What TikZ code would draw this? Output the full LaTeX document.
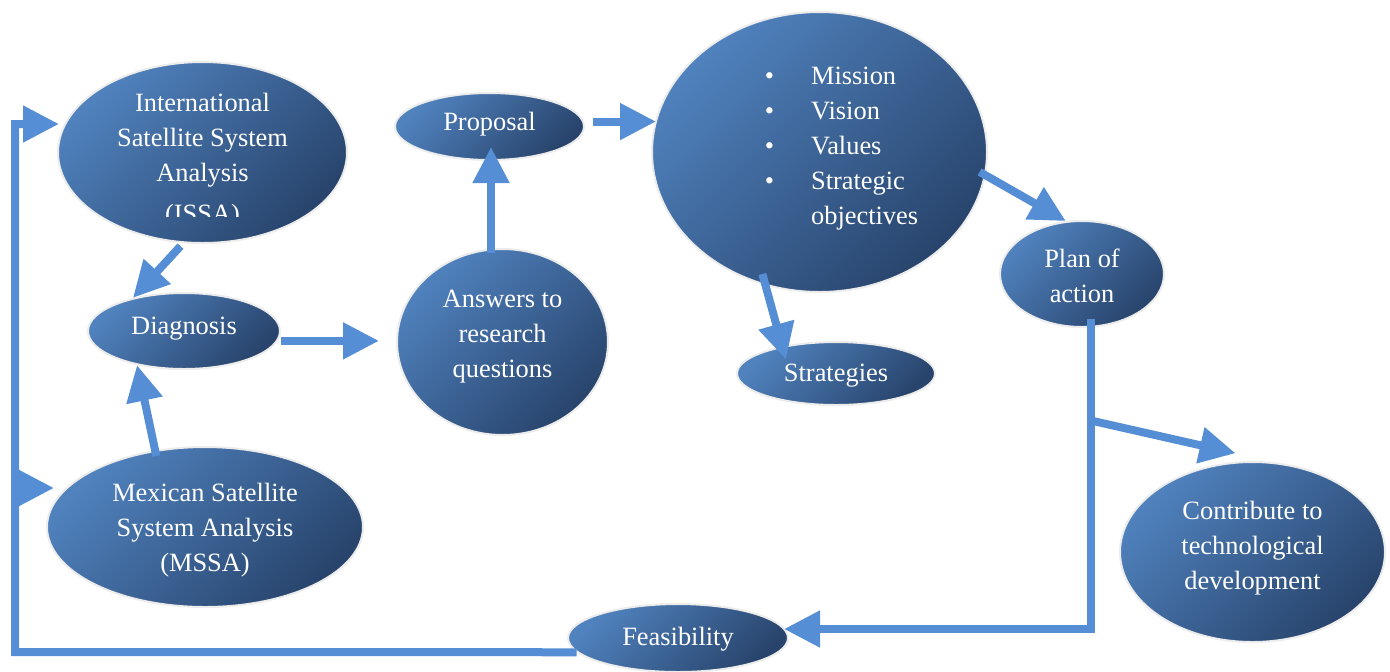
\documentclass[tikz,border=0pt]{standalone}
\usepackage{fontspec}
\setmainfont{Liberation Serif}
\usepackage{trimclip}
\usetikzlibrary{shapes.geometric, arrows.meta}

\definecolor{bubtop}{RGB}{80,130,190}
\definecolor{bubbot}{RGB}{40,68,108}
\definecolor{flowblue}{RGB}{85,142,213}
\definecolor{rimgray}{RGB}{236,236,236}

% text of a bubble, centred, with no height of its own
\newcommand{\bub}[2][0pt]{\smash{\raisebox{\dimexpr #1-3.3pt\relax}{\begin{tabular}{@{}c@{}}#2\end{tabular}}}}

\begin{document}
\begin{tikzpicture}[x=0.5pt, y=-0.5pt,
    bubble/.style={ellipse, inner sep=0pt, draw=rimgray, line width=1pt,
      top color=bubtop, bottom color=bubbot, shading angle=45,
      text=white, font=\fontsize{13.2}{17.5}\selectfont},
    flow/.style={draw=flowblue, line width=4pt, -{Triangle[length=18pt, width=17.5pt]}}]
  \useasboundingbox (0,0) rectangle (1390,671);

  % bubbles
  \node[bubble, minimum width=144.5pt, minimum height=90.5pt] (issa) at (202.5,152.5)
    {\bub[-2pt]{International\\Satellite System\\Analysis\\\clipbox{0pt 5.9pt 0pt 0pt}{(ISSA)}}};
  \node[bubble, minimum width=96pt, minimum height=38pt] (diag) at (184,331) {\bub[2pt]{Diagnosis}};
  \node[bubble, minimum width=158pt, minimum height=80pt] (mssa) at (205,527)
    {\bub[-1pt]{Mexican Satellite\\System Analysis\\(MSSA)}};
  \node[bubble, minimum width=94.5pt, minimum height=33.5pt] (proposal) at (489.5,126.5) {\bub[2pt]{Proposal}};
  \node[bubble, minimum width=105.5pt, minimum height=93pt] (answers) at (502.5,342)
    {\bub[3.5pt]{Answers to\\research\\questions}};
  \node[bubble, minimum width=167.5pt, minimum height=140pt] (values) at (819.5,152)
    {\bub[2.5pt]{\hspace*{22pt}\begin{tabular}{@{}l@{\hspace{18.5pt}}l@{}}
      \textbullet & Mission\\ \textbullet & Vision\\ \textbullet & Values\\
      \textbullet & Strategic\\ & objectives\end{tabular}}};
  \node[bubble, minimum width=99pt, minimum height=31.5pt] (strategies) at (836,373.5) {\bub{Strategies}};
  \node[bubble, minimum width=82pt, minimum height=53pt] (plan) at (1082,274) {\bub[-1.75pt]{Plan of\\action}};
  \node[bubble, minimum width=132.5pt, minimum height=90pt] (contribute) at (1252.5,552)
    {\bub[2.5pt]{Contribute to\\technological\\development}};
  \node[bubble, minimum width=110pt, minimum height=34pt] (feas) at (678,638) {\bub{Feasibility}};

  % corners of the connectors
  \coordinate (turn) at (1091,629);
  \coordinate (fork) at (1093,421);
  \coordinate (loopbot) at (15,652);
  \coordinate (looptop) at (15,124);
  \coordinate (loopmid) at (15,488);

  % connectors
  \draw[flow, shorten <=2pt] (issa.258) -- (diag.147);
  \draw[flow, shorten <=-3pt] (mssa.123) -- (diag.216);
  \draw[flow, shorten <=1.5pt, shorten >=8.5pt] (diag.354) -- (diag.354 -| answers.west);
  \draw[flow, shorten <=-2pt, shorten >=-7pt] (answers.97) -- (answers.97 |- proposal.south);
  \draw[flow, shorten <=4.5pt, shorten >=-2.5pt] (proposal.3) -- (proposal.3 -| values.west);
  \draw[flow, shorten <=-3.5pt] (values.352) -- (plan.107);
  \draw[flow, shorten <=-6pt, shorten >=-6.9pt] (values.248) -- (strategies.153);
  \draw[flow, shorten <=-4.5pt, shorten >=-2.5pt] (plan.280) -- (plan.280 |- turn) -- (turn -| feas.east);
  \draw[flow, shorten >=21pt] (fork) -- (contribute.75);
  \draw[flow, shorten >=-1pt] (feas.188) -- (loopbot) -- (looptop) -- (looptop -| issa.west);
  \draw[flow, shorten >=-4pt] (loopmid) -- (loopmid -| mssa.west);
\end{tikzpicture}
\end{document}
